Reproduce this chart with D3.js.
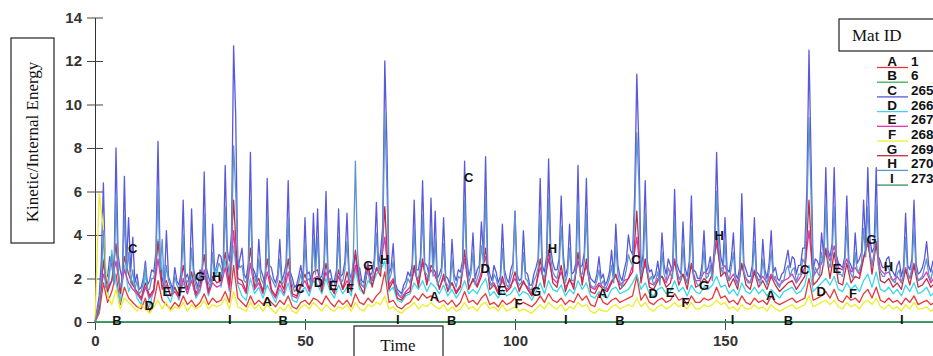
<!DOCTYPE html>
<html>
<head>
<meta charset="utf-8">
<script src="https://cdn.jsdelivr.net/npm/d3@7/dist/d3.min.js"></script>
<style>
  body { margin: 0; background: #fff; }
  svg { display: block; }
</style>
</head>
<body>
<div id="chart"></div>
<script>
// time samples: one per unit, and a finer grid for the two spiky curves
const times = d3.range(0, 201, 1)
const timesFine = d3.range(0, 200.25, 0.5)
const flatTimes = [0, 200]

const matA = [
  0, 0.4, 1.8, 0.9, 1.4, 2.2, 0.8, 1.6, 1.1, 0.9,
  0.7, 0.6, 1.1, 0.5, 0.9, 1.9, 1.0, 0.8, 0.6, 0.9,
  0.7, 1.2, 0.8, 1.0, 0.7, 0.9, 1.3, 0.8, 1.1, 0.9,
  1.0, 1.4, 0.9, 2.6, 1.1, 0.9, 0.7, 1.2, 0.8, 1.0,
  0.8, 1.1, 0.9, 0.7, 1.0, 0.8, 1.2, 0.7, 0.6, 0.9,
  1.0, 0.8, 1.1, 1.0, 0.8, 1.2, 0.9, 0.7, 1.0, 0.8,
  1.0, 0.7, 1.3, 0.9, 0.8, 1.1, 0.9, 1.2, 1.4, 2.3,
  0.9, 1.0, 0.7, 0.6, 0.8, 0.9, 1.2, 1.0, 1.3, 1.1,
  1.2, 1.1, 0.9, 1.0, 0.8, 1.0, 0.7, 0.9, 1.4, 0.9,
  1.0, 0.8, 1.1, 1.3, 0.8, 0.9, 0.7, 1.0, 0.8, 0.9,
  1.1, 0.8, 0.9, 0.8, 0.7, 0.9, 1.2, 0.9, 1.3, 1.0,
  0.9, 1.1, 0.8, 1.0, 0.9, 1.3, 1.0, 1.2, 0.8, 0.7,
  1.3, 0.9, 0.8, 1.0, 1.1, 0.9, 1.0, 1.1, 1.2, 2.1,
  1.0, 1.3, 0.9, 0.8, 1.0, 1.1, 0.9, 1.0, 1.3, 1.0,
  1.1, 0.8, 1.2, 0.9, 0.9, 1.1, 1.0, 1.1, 1.6, 1.1,
  1.2, 0.9, 1.0, 0.8, 1.2, 0.9, 0.8, 1.1, 0.9, 1.0,
  0.8, 1.2, 0.9, 0.8, 0.9, 1.0, 1.1, 0.9, 1.0, 1.1,
  2.0, 1.0, 1.1, 1.2, 1.4, 1.1, 1.5, 1.0, 0.9, 1.2,
  1.0, 1.1, 0.9, 1.3, 1.5, 1.1, 1.6, 1.0, 0.9, 1.1,
  0.9, 1.0, 0.8, 1.1, 0.9, 1.2, 0.8, 0.9, 1.0, 0.8,
  0.9
]

const matB = [0, 0]

// sampled every 0.5
const matC = [
  0, 0.6, 1.2, 2.8, 6.4, 2.2, 2.1, 3.0, 2.6, 1.9,
  8.0, 3.1, 2.4, 2.0, 6.7, 2.6, 4.8, 2.3, 3.9, 1.8,
  2.2, 1.5, 1.6, 2.0, 2.8, 1.7, 1.9, 2.4, 2.3, 3.2,
  8.3, 2.9, 2.0, 1.6, 4.2, 2.1, 1.8, 1.5, 2.5, 1.9,
  1.7, 2.3, 5.6, 2.0, 2.2, 1.8, 5.2, 2.4, 1.9, 1.6,
  2.4, 2.1, 6.9, 2.5, 2.1, 1.8, 4.5, 2.2, 2.6, 3.1,
  3.0, 2.4, 7.2, 3.3, 2.8, 4.1, 12.7, 9.5, 2.4, 2.9,
  3.4, 2.2, 2.0, 2.7, 7.8, 2.5, 2.3, 1.9, 3.8, 2.4,
  2.1, 1.7, 6.6, 2.6, 2.5, 2.0, 1.8, 2.2, 3.8, 1.9,
  2.2, 2.7, 6.5, 2.3, 2.0, 1.6, 1.7, 2.1, 2.6, 1.9,
  4.8, 2.2, 2.3, 1.8, 5.0, 2.5, 5.2, 2.0, 2.1, 2.6,
  6.0, 2.2, 2.4, 1.9, 1.9, 2.4, 5.2, 2.1, 2.2, 2.8,
  5.0, 2.3, 2.0, 2.6, 3.1, 2.2, 2.5, 1.9, 1.8, 2.4,
  2.7, 2.1, 2.3, 2.9, 5.5, 2.6, 3.2, 4.4, 12.0, 8.2,
  2.2, 2.5, 3.6, 1.8, 1.5, 1.4, 1.3, 1.7, 1.9, 2.3,
  2.1, 2.6, 5.6, 2.4, 2.4, 3.0, 6.5, 2.7, 2.6, 2.2,
  5.7, 2.4, 5.1, 2.0, 2.2, 2.5, 4.8, 2.1, 2.0, 1.7,
  3.8, 2.2, 1.9, 2.4, 2.3, 2.8, 7.4, 3.0, 2.1, 2.5,
  4.1, 2.0, 2.4, 2.6, 4.6, 3.1, 7.6, 2.7, 2.2, 1.9,
  2.6, 2.3, 1.8, 2.1, 4.5, 2.4, 2.0, 1.8, 2.4, 2.7,
  5.1, 2.2, 1.9, 2.0, 4.2, 2.3, 2.2, 1.7, 1.7, 2.2,
  2.5, 2.9, 6.6, 2.6, 2.3, 3.0, 7.5, 3.4, 2.7, 2.4,
  2.4, 2.9, 5.8, 3.1, 2.1, 2.5, 4.5, 2.2, 2.3, 2.7,
  7.2, 2.5, 2.6, 3.2, 6.6, 2.4, 2.0, 1.9, 1.8, 2.2,
  3.0, 2.0, 2.2, 1.7, 1.9, 2.3, 3.3, 2.1, 4.5, 2.6,
  2.1, 1.9, 2.4, 2.8, 4.0, 3.3, 3.1, 5.9, 11.4, 8.0,
  2.5, 3.1, 6.5, 2.8, 2.3, 2.4, 2.0, 2.2, 2.8, 2.0,
  4.1, 2.6, 2.2, 2.9, 2.6, 2.3, 6.1, 2.7, 2.4, 2.2,
  4.6, 2.5, 2.1, 2.8, 5.8, 2.4, 2.3, 2.0, 2.0, 2.6,
  4.2, 2.3, 2.5, 3.0, 2.2, 3.6, 7.8, 4.2, 3.0, 2.6,
  4.8, 2.4, 2.3, 2.9, 4.1, 2.2, 2.0, 2.5, 5.9, 2.7,
  2.4, 2.1, 2.1, 2.6, 4.8, 2.3, 2.2, 2.0, 3.8, 2.4,
  2.0, 2.7, 4.2, 2.3, 2.5, 2.0, 1.9, 2.2, 2.3, 2.8,
  3.3, 2.5, 3.0, 2.9, 2.2, 2.6, 2.6, 3.4, 3.4, 6.2,
  12.5, 7.4, 2.4, 2.9, 2.8, 2.5, 4.1, 3.0, 7.1, 3.3,
  3.0, 3.6, 7.1, 3.1, 2.7, 2.6, 2.5, 3.0, 5.8, 2.8,
  2.6, 2.3, 4.1, 2.7, 2.9, 3.2, 5.6, 3.5, 7.1, 3.8,
  3.2, 3.4, 7.1, 3.0, 2.8, 2.5, 2.5, 2.9, 3.0, 2.4,
  2.3, 2.1, 2.6, 2.8, 2.1, 2.5, 5.0, 2.6, 2.4, 2.9,
  5.6, 2.7, 2.2, 2.3, 2.5, 2.9, 3.7, 2.6, 2.3, 2.8,
  2.6
]

const matD = [
  0, 0.5, 2.9, 1.2, 3.3, 1.8, 0.9, 2.6, 1.4, 1.9,
  1.1, 0.8, 2.2, 0.7, 1.5, 3.8, 2.4, 1.3, 0.9, 1.6,
  1.0, 1.8, 1.3, 2.1, 1.1, 1.4, 2.3, 1.2, 1.9, 2.5,
  1.6, 2.8, 1.4, 3.5, 1.7, 1.2, 1.0, 2.0, 1.3, 1.6,
  1.1, 1.7, 1.3, 0.9, 1.5, 1.2, 1.8, 1.0, 0.9, 1.4,
  1.6, 1.2, 1.9, 1.7, 1.3, 2.0, 1.4, 1.1, 1.7, 1.3,
  1.6, 1.2, 2.4, 1.5, 1.3, 1.9, 1.7, 2.2, 2.4, 2.8,
  1.4, 1.6, 1.0, 0.9, 1.2, 1.3, 1.8, 1.5, 1.9, 1.4,
  1.8, 1.6, 1.3, 1.7, 1.2, 1.5, 1.1, 1.4, 1.9, 1.3,
  1.5, 1.3, 1.7, 2.0, 1.2, 1.4, 1.1, 1.5, 1.2, 1.3,
  1.6, 1.2, 1.4, 1.3, 1.0, 1.4, 1.8, 1.3, 1.9, 1.5,
  1.4, 1.7, 1.2, 1.5, 1.3, 1.9, 1.5, 1.8, 1.2, 1.1,
  1.4, 1.2, 1.1, 1.5, 1.6, 1.3, 1.4, 1.5, 1.8, 2.2,
  1.5, 1.8, 1.3, 1.2, 1.5, 1.6, 1.3, 1.4, 1.9, 1.4,
  1.6, 1.2, 1.7, 1.4, 1.3, 1.6, 1.5, 1.7, 2.1, 1.6,
  1.7, 1.3, 1.5, 1.2, 1.8, 1.4, 1.3, 1.6, 1.3, 1.5,
  1.2, 1.5, 1.3, 1.1, 1.4, 1.5, 1.6, 1.3, 1.4, 1.7,
  2.6, 1.4, 1.6, 1.8, 2.0, 1.7, 2.1, 1.5, 1.4, 1.8,
  1.5, 1.7, 1.4, 1.9, 2.2, 1.6, 2.3, 1.5, 1.4, 1.6,
  1.3, 1.5, 1.2, 1.7, 1.4, 1.8, 1.3, 1.4, 1.6, 1.2,
  1.4
]

const matE = [
  0, 0.9, 2.2, 1.6, 1.9, 2.8, 1.4, 2.4, 1.8, 1.5,
  1.3, 1.0, 1.6, 1.1, 1.4, 2.9, 1.5, 1.7, 1.2, 1.4,
  1.1, 2.0, 1.3, 1.9, 1.2, 1.5, 2.4, 1.3, 1.8, 1.6,
  1.7, 2.5, 1.5, 4.2, 1.8, 1.7, 1.3, 2.7, 1.5, 1.8,
  1.3, 2.3, 1.4, 1.1, 1.7, 1.3, 2.3, 1.2, 1.1, 1.6,
  1.9, 1.4, 2.0, 2.1, 1.5, 2.3, 1.6, 1.4, 2.1, 1.5,
  1.9, 1.5, 2.6, 1.8, 1.6, 2.5, 1.9, 2.4, 2.6, 3.9,
  1.7, 2.0, 1.3, 1.1, 1.4, 1.6, 2.4, 1.8, 2.7, 1.9,
  2.4, 2.1, 1.6, 2.0, 1.5, 1.8, 1.4, 1.7, 2.9, 1.6,
  1.9, 1.7, 2.3, 3.0, 1.7, 1.8, 1.4, 1.9, 1.5, 1.7,
  2.0, 1.5, 1.8, 1.6, 1.3, 1.7, 2.5, 1.8, 2.9, 2.0,
  1.8, 2.3, 1.6, 1.9, 1.7, 2.8, 1.9, 2.6, 1.6, 1.5,
  1.8, 1.6, 1.5, 1.9, 2.1, 1.7, 1.9, 2.0, 2.6, 3.9,
  2.0, 2.7, 1.8, 1.7, 2.0, 2.1, 1.8, 2.3, 2.9, 2.0,
  2.2, 1.8, 2.6, 1.9, 1.9, 2.3, 2.2, 2.5, 3.6, 2.4,
  2.6, 1.9, 2.2, 1.8, 2.6, 2.0, 1.8, 2.4, 1.9, 2.1,
  1.8, 2.2, 1.9, 1.7, 1.9, 2.0, 2.2, 1.8, 2.1, 2.5,
  4.2, 2.1, 2.4, 2.7, 3.4, 2.8, 3.5, 2.5, 2.4, 2.9,
  2.3, 2.5, 2.2, 3.0, 3.6, 2.6, 3.7, 2.4, 2.2, 2.3,
  1.9, 2.1, 1.8, 2.5, 2.0, 2.7, 1.9, 2.0, 2.3, 1.8,
  2.1
]

const matF = [
  0, 5.9, 4.3, 1.2, 0.8, 1.5, 0.6, 1.1, 0.9, 0.7,
  0.5, 0.8, 0.6, 0.4, 0.7, 1.0, 0.6, 0.9, 0.5, 0.7,
  0.6, 0.9, 0.5, 0.8, 0.6, 0.7, 1.0, 0.6, 0.8, 0.7,
  0.8, 1.1, 0.6, 1.4, 0.7, 0.6, 0.5, 0.9, 0.6, 0.8,
  0.5, 0.8, 0.6, 0.4, 0.7, 0.5, 0.8, 0.5, 0.4, 0.7,
  0.8, 0.6, 0.9, 0.7, 0.5, 0.8, 0.6, 0.5, 0.7, 0.6,
  0.8, 0.5, 0.9, 0.6, 0.5, 0.8, 0.7, 0.9, 0.8, 1.2,
  0.6, 0.7, 0.5, 0.4, 0.6, 0.7, 0.9, 0.6, 0.8, 0.7,
  0.9, 0.7, 0.6, 0.8, 0.5, 0.7, 0.5, 0.6, 0.9, 0.6,
  0.7, 0.5, 0.8, 0.9, 0.6, 0.7, 0.5, 0.8, 0.5, 0.6,
  0.7, 0.5, 0.6, 0.5, 0.4, 0.6, 0.8, 0.6, 0.9, 0.7,
  0.6, 0.8, 0.5, 0.7, 0.6, 0.9, 0.7, 0.8, 0.5, 0.4,
  0.6, 0.5, 0.5, 0.7, 0.8, 0.6, 0.7, 0.8, 0.7, 1.1,
  0.7, 0.9, 0.6, 0.5, 0.7, 0.8, 0.6, 0.7, 0.9, 0.7,
  0.8, 0.6, 0.9, 0.6, 0.6, 0.8, 0.7, 0.8, 1.0, 0.8,
  0.9, 0.6, 0.7, 0.5, 0.8, 0.6, 0.6, 0.8, 0.6, 0.7,
  0.5, 0.8, 0.6, 0.5, 0.6, 0.7, 0.8, 0.6, 0.7, 0.8,
  1.2, 0.7, 0.8, 0.9, 1.0, 0.8, 1.0, 0.7, 0.6, 0.9,
  0.7, 0.8, 0.6, 0.9, 1.0, 0.8, 1.1, 0.7, 0.6, 0.8,
  0.6, 0.7, 0.5, 0.8, 0.6, 0.9, 0.6, 0.6, 0.7, 0.5,
  0.6
]

const matG = [
  0, 0.6, 2.8, 1.4, 1.9, 3.6, 1.3, 3.0, 2.2, 1.7,
  1.4, 1.1, 1.8, 1.2, 1.5, 3.7, 1.6, 1.9, 1.2, 1.6,
  1.2, 2.6, 1.5, 2.3, 1.3, 1.7, 3.1, 1.4, 2.1, 1.8,
  1.9, 3.2, 1.7, 5.6, 2.0, 1.9, 1.4, 3.4, 1.6, 2.0,
  1.4, 2.9, 1.5, 1.2, 1.9, 1.5, 2.9, 1.3, 1.2, 1.7,
  2.2, 1.5, 2.3, 2.4, 1.4, 2.7, 1.6, 1.3, 2.4, 1.5,
  2.3, 1.4, 3.3, 1.7, 1.3, 2.6, 1.6, 2.5, 2.1, 5.3,
  1.5, 1.9, 1.1, 1.0, 1.3, 1.4, 2.6, 1.6, 2.9, 1.7,
  2.6, 2.3, 1.5, 2.2, 1.4, 1.8, 1.3, 1.6, 3.3, 1.5,
  2.0, 1.6, 2.1, 3.4, 1.5, 1.7, 1.3, 2.1, 1.4, 1.6,
  2.3, 1.4, 1.9, 1.5, 1.2, 1.6, 2.9, 1.6, 3.3, 1.8,
  1.6, 2.6, 1.4, 2.0, 1.5, 3.2, 1.7, 2.9, 1.4, 1.3,
  1.7, 1.5, 1.4, 1.8, 2.2, 1.5, 1.7, 2.0, 2.3, 5.1,
  1.8, 2.9, 1.6, 1.5, 1.9, 2.1, 1.6, 1.8, 2.8, 1.7,
  2.2, 1.5, 2.7, 1.6, 1.7, 2.0, 1.8, 2.2, 4.0, 2.1,
  2.3, 1.6, 2.0, 1.5, 2.7, 1.7, 1.5, 2.3, 1.6, 1.9,
  1.5, 2.1, 1.7, 1.4, 1.6, 1.8, 1.9, 1.5, 1.8, 2.1,
  5.6, 1.7, 1.9, 2.2, 3.3, 2.0, 3.2, 1.8, 1.7, 2.7,
  1.8, 2.1, 2.0, 2.9, 3.8, 2.2, 3.6, 1.9, 1.8, 2.0,
  1.6, 1.8, 1.5, 2.4, 1.7, 2.6, 1.6, 1.7, 2.0, 1.6,
  1.8
]

// sampled every 0.5
const matH = [
  0, 0.5, 0.8, 2.0, 4.2, 1.6, 1.8, 2.4, 3.1, 1.7,
  5.9, 2.3, 1.6, 1.9, 4.9, 2.2, 3.2, 1.8, 2.4, 1.5,
  1.9, 1.3, 1.4, 1.8, 2.6, 1.5, 1.5, 2.0, 2.0, 2.7,
  6.2, 2.4, 3.8, 1.5, 2.6, 1.9, 1.6, 1.3, 2.1, 1.7,
  1.5, 2.0, 4.0, 1.8, 1.9, 1.6, 3.4, 2.1, 1.7, 1.4,
  2.2, 1.9, 5.0, 2.2, 1.8, 1.6, 3.2, 2.0, 2.3, 2.7,
  2.5, 2.1, 5.3, 2.8, 2.2, 3.4, 8.1, 6.0, 2.9, 2.5,
  2.6, 1.9, 1.8, 2.3, 5.6, 2.1, 2.1, 1.7, 2.9, 2.0,
  1.8, 1.5, 4.9, 2.2, 2.0, 1.8, 1.6, 1.9, 2.9, 1.7,
  1.9, 2.3, 4.8, 2.0, 1.7, 1.4, 1.5, 1.8, 2.2, 1.7,
  3.6, 1.9, 2.0, 1.6, 3.8, 2.2, 3.9, 1.8, 1.8, 2.3,
  4.4, 1.9, 2.0, 1.7, 1.7, 2.1, 3.9, 1.8, 1.9, 2.4,
  3.7, 2.0, 1.8, 2.9, 7.4, 3.2, 2.1, 1.7, 1.6, 2.1,
  2.3, 1.8, 2.0, 2.5, 4.1, 2.3, 2.7, 3.6, 9.6, 6.3,
  1.9, 2.2, 2.8, 1.6, 1.4, 1.2, 1.2, 1.5, 1.6, 2.0,
  1.8, 2.3, 4.3, 2.1, 2.0, 2.6, 4.9, 2.3, 2.2, 1.9,
  4.3, 2.1, 3.8, 1.7, 1.9, 2.2, 3.6, 1.8, 1.7, 1.5,
  2.9, 1.9, 1.6, 2.1, 2.0, 2.4, 5.6, 2.6, 1.8, 2.2,
  3.2, 1.7, 2.0, 2.3, 3.5, 2.7, 5.8, 2.3, 1.9, 1.6,
  2.2, 2.0, 1.6, 1.8, 3.4, 2.1, 1.7, 1.6, 2.0, 2.3,
  5.1, 1.9, 1.7, 1.8, 3.2, 2.0, 1.9, 1.5, 1.5, 1.9,
  2.1, 2.5, 4.9, 2.2, 2.0, 2.6, 5.7, 2.9, 2.3, 2.1,
  2.0, 2.5, 4.4, 2.7, 1.8, 2.2, 3.4, 1.9, 1.9, 2.3,
  5.5, 2.1, 2.2, 2.8, 5.0, 2.1, 1.7, 1.6, 1.6, 1.9,
  2.4, 1.7, 1.9, 1.5, 1.7, 2.0, 2.6, 1.8, 3.5, 2.2,
  1.8, 1.6, 2.0, 2.4, 3.1, 2.8, 2.6, 4.9, 8.7, 6.4,
  2.1, 2.6, 5.0, 2.4, 1.9, 2.1, 1.7, 1.9, 2.3, 1.7,
  3.2, 2.2, 1.9, 2.5, 2.2, 2.0, 4.7, 2.3, 2.0, 1.9,
  3.5, 2.1, 1.8, 2.4, 4.4, 2.0, 1.9, 1.7, 1.7, 2.2,
  3.3, 2.0, 2.1, 2.6, 1.9, 3.1, 6.0, 3.5, 2.5, 2.2,
  3.7, 2.0, 1.9, 2.5, 3.2, 1.9, 1.7, 2.1, 4.5, 2.3,
  2.0, 1.8, 1.8, 2.2, 3.7, 2.0, 1.9, 1.7, 2.9, 2.1,
  1.7, 2.3, 3.3, 2.0, 2.1, 1.7, 1.6, 1.9, 1.9, 2.4,
  2.6, 2.1, 2.4, 2.5, 1.8, 2.2, 2.2, 2.9, 2.7, 5.0,
  9.4, 5.8, 2.0, 2.5, 2.3, 2.1, 3.2, 2.6, 5.4, 2.8,
  2.5, 3.1, 5.3, 2.7, 2.2, 2.2, 2.1, 2.6, 4.4, 2.4,
  2.2, 2.0, 3.2, 2.3, 2.4, 2.7, 4.3, 3.0, 5.3, 3.2,
  2.6, 2.9, 5.4, 2.6, 2.3, 2.1, 2.1, 2.5, 2.5, 2.0,
  1.9, 1.8, 2.2, 2.4, 1.8, 2.1, 3.9, 2.2, 2.0, 2.5,
  4.3, 2.3, 1.9, 2.0, 2.1, 2.5, 2.9, 2.2, 1.9, 2.4,
  2.2
]

const matI = [0, 0]

// curve id labels: [time, value]
const labelsA = [[41, 0.93], [80.8, 1.16], [120.9, 1.32], [160.9, 1.24]]
const labelsB = [[5.2, 0.09], [44.8, 0.09], [84.9, 0.09], [125, 0.09], [165.1, 0.09]]
const labelsC = [[9, 3.39], [48.8, 1.55], [89, 6.64], [128.8, 2.88], [169, 2.42]]
const labelsD = [[12.9, 0.74], [53.2, 1.81], [92.9, 2.47], [132.9, 1.29], [172.9, 1.39]]
const labelsE = [[17.1, 1.39], [56.7, 1.7], [96.8, 1.47], [136.9, 1.35], [176.6, 2.47]]
const labelsF = [[20.6, 1.39], [60.7, 1.55], [100.8, 0.86], [140.6, 0.89], [180.5, 1.29]]
const labelsG = [[25, 2.11], [65.1, 2.62], [105, 1.39], [145, 1.7], [184.9, 3.8]]
const labelsH = [[29, 2.08], [69, 2.88], [108.9, 3.39], [148.6, 4.0], [188.9, 2.54]]
const labelsI = [[32.1, 0.13], [72.1, 0.13], [112.1, 0.13], [151.8, 0.13], [192.1, 0.13]]

const matIds = ["1", "6", "265", "266", "267", "268", "269", "270", "273"]
const yTicks = [0, 2, 4, 6, 8, 10, 12, 14]
const xTicks = [0, 50, 100, 150]

const series = [
  {key: "A", t: times, v: matA, labels: labelsA, color: "#e63a3a"},
  {key: "B", t: flatTimes, v: matB, labels: labelsB, color: "#3cb04c"},
  {key: "C", t: timesFine, v: matC, labels: labelsC, color: "#5858dc"},
  {key: "D", t: times, v: matD, labels: labelsD, color: "#3cd6ea"},
  {key: "E", t: times, v: matE, labels: labelsE, color: "#e434b0"},
  {key: "F", t: times, v: matF, labels: labelsF, color: "#eeee2c"},
  {key: "G", t: times, v: matG, labels: labelsG, color: "#c42c44"},
  {key: "H", t: timesFine, v: matH, labels: labelsH, color: "#6094cc"},
  {key: "I", t: flatTimes, v: matI, labels: labelsI, color: "#3a8c66"}
]

const width = 933
const height = 356

const x = d3.scaleLinear().domain([0, 200]).range([95, 935])
const y = d3.scaleLinear().domain([0, 14]).range([322, 17.5])

const svg = d3.select("#chart")
  .append("svg")
  .attr("width", width)
  .attr("height", height)
  .style("overflow", "hidden")

const sans = "'Liberation Sans', Arial, sans-serif"
const serif = "'Liberation Serif', 'Times New Roman', serif"

// y axis
const yAxis = svg.append("g")
  .attr("transform", `translate(${x(0)},0)`)
  .call(d3.axisLeft(y).tickValues(yTicks).tickSizeOuter(0).tickSizeInner(8).tickPadding(6))
yAxis.select(".domain").attr("stroke", "#333")
yAxis.selectAll(".tick line").attr("x1", 8).attr("x2", -8).attr("stroke", "#444")
yAxis.selectAll(".tick text")
  .attr("x", -13)
  .style("font", `bold 15px ${sans}`)
  .attr("fill", "#333")

// x axis
const xAxis = svg.append("g")
  .attr("transform", `translate(0,${y(0)})`)
  .call(d3.axisBottom(x).tickValues(xTicks).tickSizeOuter(0).tickSizeInner(8).tickPadding(5))
xAxis.select(".domain").attr("stroke", "#445a4a")
xAxis.selectAll(".tick line").attr("y1", -3).attr("stroke", "#444")
xAxis.selectAll(".tick text")
  .style("font", `bold 15px ${sans}`)
  .attr("fill", "#333")

// curves
const line = d3.line()
  .x(d => x(d[0]))
  .y(d => y(d[1]))

const curves = svg.append("g")
series.forEach(s => {
  curves.append("path")
    .datum(s.t.map((t, i) => [t, s.v[i]]))
    .attr("fill", "none")
    .attr("stroke", s.color)
    .attr("stroke-width", 1.3)
    .attr("stroke-linejoin", "round")
    .attr("d", line)
})

// curve labels
const labelG = svg.append("g")
series.forEach(s => {
  labelG.selectAll(null)
    .data(s.labels)
    .join("text")
    .attr("x", d => x(d[0]))
    .attr("y", d => y(d[1]))
    .attr("text-anchor", "middle")
    .attr("dominant-baseline", "central")
    .style("font", `bold 13px ${sans}`)
    .attr("fill", "#111")
    .text(s.key)
})

// y label box
svg.append("rect")
  .attr("x", 11).attr("y", 38).attr("width", 43).attr("height", 205)
  .attr("fill", "#fff").attr("stroke", "#222").attr("stroke-width", 1.2)
svg.append("text")
  .attr("transform", "translate(38,142) rotate(-90)")
  .attr("text-anchor", "middle")
  .style("font", `17px ${serif}`)
  .attr("fill", "#111")
  .text("Kinetic/Internal Energy")

// x label box
svg.append("rect")
  .attr("x", 354).attr("y", 326).attr("width", 89).attr("height", 45)
  .attr("fill", "#fff").attr("stroke", "#222").attr("stroke-width", 1.2)
svg.append("text")
  .attr("x", 398).attr("y", 351)
  .attr("text-anchor", "middle")
  .style("font", `17px ${serif}`)
  .attr("fill", "#111")
  .text("Time")

// legend
svg.append("rect")
  .attr("x", 839).attr("y", 19).attr("width", 120).attr("height", 32)
  .attr("fill", "#fff").attr("stroke", "#222").attr("stroke-width", 1.2)
svg.append("text")
  .attr("x", 852).attr("y", 41)
  .style("font", `17px ${serif}`)
  .attr("fill", "#111")
  .text("Mat ID")

const legend = svg.append("g")
series.forEach((s, i) => {
  const yc = 61 + i * 14.7
  legend.append("line")
    .attr("x1", 877).attr("x2", 908)
    .attr("y1", yc + 6.5).attr("y2", yc + 6.5)
    .attr("stroke", s.color).attr("stroke-width", 1.3)
  legend.append("text")
    .attr("x", 892).attr("y", yc + 4.5)
    .attr("text-anchor", "middle")
    .style("font", `bold 13.5px ${sans}`)
    .attr("fill", "#111")
    .text(s.key)
  legend.append("text")
    .attr("x", 911).attr("y", yc + 4.5)
    .style("font", `bold 13.5px ${sans}`)
    .attr("fill", "#111")
    .text(matIds[i])
})
</script>
</body>
</html>
